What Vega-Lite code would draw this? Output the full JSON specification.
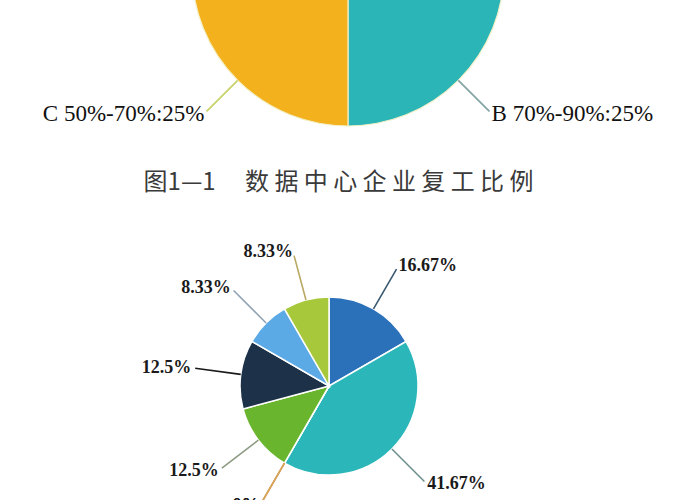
{
  "$schema": "https://vega.github.io/schema/vega-lite/v6.json",
  "width": 700,
  "height": 500,
  "autosize": "none",
  "padding": 0,
  "background": "white",
  "data": {
    "values": [
      {"chart": "top", "name": "A 90%以上", "value": 25},
      {"chart": "top", "name": "B 70%-90%", "value": 25},
      {"chart": "top", "name": "C 50%-70%", "value": 25},
      {"chart": "top", "name": "D 50%以下", "value": 25},
      {"chart": "bottom", "name": "b1", "value": 16.67},
      {"chart": "bottom", "name": "b2", "value": 41.67},
      {"chart": "bottom", "name": "b3", "value": 0},
      {"chart": "bottom", "name": "b4", "value": 0},
      {"chart": "bottom", "name": "b5", "value": 12.5},
      {"chart": "bottom", "name": "b6", "value": 12.5},
      {"chart": "bottom", "name": "b7", "value": 8.33},
      {"chart": "bottom", "name": "b8", "value": 8.33}
    ]
  },
  "transform": [
    {"stack": "value", "groupby": ["chart"], "sort": [{"field": "name", "order": "ascending"}], "as": ["v0", "v1"]},
    {"calculate": "(datum.v0 + datum.v1) / 2", "as": "mid"},
    {"calculate": "datum.chart === 'top' ? datum.name + ':' + datum.value + '%' : datum.value + '%'", "as": "label"}
  ],
  "encoding": {
    "x": {
      "field": "chart",
      "type": "nominal",
      "scale": {"type": "point", "domain": ["top", "caption", "bottom"], "range": [348, 329], "padding": 0},
      "axis": null
    },
    "y": {
      "field": "chart",
      "type": "nominal",
      "scale": {"type": "point", "domain": ["top", "caption", "bottom"], "range": [-30, 386], "padding": 0},
      "axis": null
    }
  },
  "layer": [
    {
      "transform": [{"filter": "datum.chart === 'top'"}],
      "mark": {"type": "arc", "outerRadius": 156, "stroke": "#f3f0c8", "strokeWidth": 1.2, "clip": true},
      "encoding": {
        "theta": {"field": "v0", "type": "quantitative", "stack": null, "scale": {"domain": [0, 100], "range": [0, 6.283185307179586]}},
        "theta2": {"field": "v1"},
        "fill": {
          "field": "name",
          "type": "nominal",
          "legend": null,
          "scale": {
            "domain": ["A 90%以上", "B 70%-90%", "C 50%-70%", "D 50%以下", "b1", "b2", "b3", "b4", "b5", "b6", "b7", "b8"],
            "range": ["#2b71b9", "#2cb5b7", "#f4b11e", "#1d3148", "#2b71b9", "#2bb7b9", "#b5523b", "#f0a040", "#69b52d", "#1d3148", "#5caae5", "#a7c83a"]
          }
        }
      }
    },
    {
      "transform": [{"filter": "datum.chart === 'bottom'"}],
      "mark": {"type": "arc", "outerRadius": 89, "stroke": "white", "strokeWidth": 1.5},
      "encoding": {
        "theta": {"field": "v0", "type": "quantitative", "stack": null},
        "theta2": {"field": "v1"},
        "fill": {"field": "name", "type": "nominal", "legend": null}
      }
    },
    {
      "transform": [{"filter": "datum.chart === 'top'"}],
      "mark": {"type": "arc", "filled": false, "innerRadius": 156, "outerRadius": 200, "strokeWidth": 1.8, "clip": true},
      "encoding": {
        "theta": {"field": "mid", "type": "quantitative", "stack": null},
        "theta2": {"field": "mid"},
        "stroke": {
          "field": "name",
          "type": "nominal",
          "legend": null,
          "scale": {
            "domain": ["A 90%以上", "B 70%-90%", "C 50%-70%", "D 50%以下", "b1", "b2", "b3", "b4", "b5", "b6", "b7", "b8"],
            "range": ["#5a7a95", "#86a6a4", "#c9d36c", "#556070", "#3b5a72", "#6f8f8f", "#c07050", "#d9a855", "#8e9c84", "#1a1a1a", "#8fa2b3", "#b8a862"]
          }
        }
      }
    },
    {
      "transform": [{"filter": "datum.chart === 'bottom'"}],
      "mark": {"type": "arc", "filled": false, "innerRadius": 89, "outerRadius": 135, "strokeWidth": 1.6},
      "encoding": {
        "theta": {"field": "mid", "type": "quantitative", "stack": null},
        "theta2": {"field": "mid"},
        "stroke": {"field": "name", "type": "nominal", "legend": null}
      }
    },
    {
      "transform": [{"filter": "datum.chart === 'top' && datum.mid > 50"}],
      "mark": {"type": "text", "radius": 203, "align": "right", "baseline": "middle", "font": "Liberation Serif", "fontSize": 23, "color": "#111111"},
      "encoding": {
        "theta": {"field": "mid", "type": "quantitative", "stack": null},
        "text": {"field": "label"}
      }
    },
    {
      "transform": [{"filter": "datum.chart === 'top' && datum.mid <= 50"}],
      "mark": {"type": "text", "radius": 203, "align": "left", "baseline": "middle", "font": "Liberation Serif", "fontSize": 23, "color": "#111111"},
      "encoding": {
        "theta": {"field": "mid", "type": "quantitative", "stack": null},
        "text": {"field": "label"}
      }
    },
    {
      "transform": [{"filter": "datum.chart === 'bottom' && datum.mid > 50"}],
      "mark": {"type": "text", "radius": 139, "align": "right", "baseline": "middle", "font": "Liberation Serif", "fontSize": 18, "fontWeight": "bold", "color": "#1a1a1a"},
      "encoding": {
        "theta": {"field": "mid", "type": "quantitative", "stack": null},
        "text": {"field": "label"}
      }
    },
    {
      "transform": [{"filter": "datum.chart === 'bottom' && datum.mid <= 50"}],
      "mark": {"type": "text", "radius": 139, "align": "left", "baseline": "middle", "font": "Liberation Serif", "fontSize": 18, "fontWeight": "bold", "color": "#1a1a1a"},
      "encoding": {
        "theta": {"field": "mid", "type": "quantitative", "stack": null},
        "text": {"field": "label"}
      }
    },
    {
      "data": {"values": [{"chart": "caption", "text": "图1—1　 数 据 中 心 企 业 复 工 比 例"}]},
      "mark": {"type": "text", "align": "center", "baseline": "middle", "dy": 5, "font": "Noto Sans CJK SC", "fontSize": 24, "color": "#3a3a3a"},
      "encoding": {
        "text": {"field": "text"}
      }
    }
  ],
  "config": {
    "view": {"stroke": null}
  }
}
